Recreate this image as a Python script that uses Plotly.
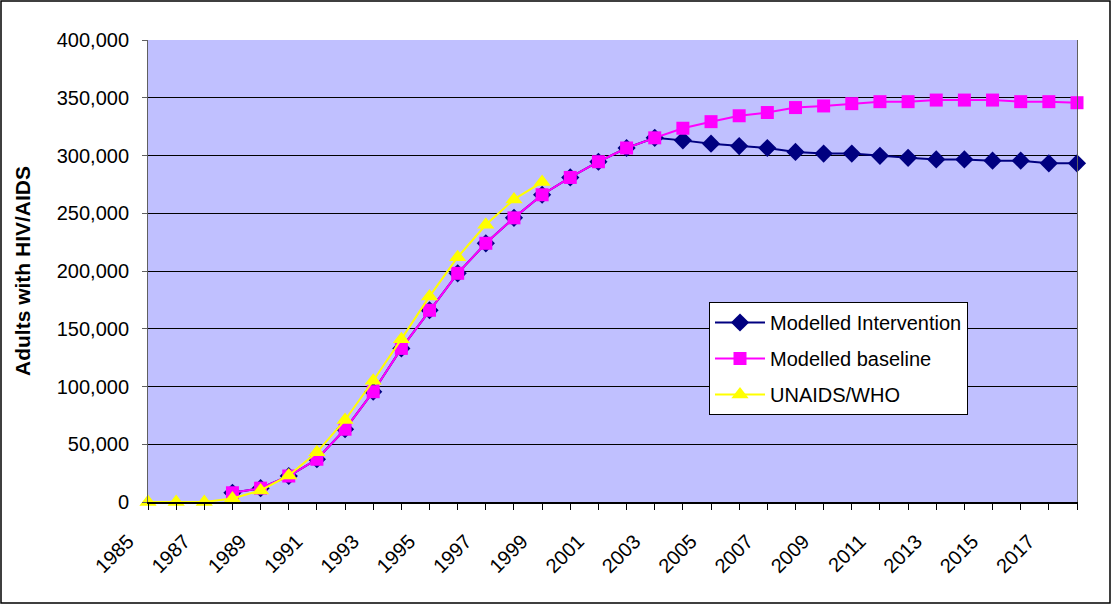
import plotly.graph_objects as go

years = list(range(1985, 2019))

baseline = [None, None, None,
            8000, 12000, 22500, 37000, 63000, 95500, 133000, 166000, 198000,
            224000, 246000, 266000, 281000, 294600, 306500, 315300,
            323600, 329300, 334400, 337200, 341500, 342900, 344900, 346600,
            346600, 348000, 348000, 348000, 346600, 346600, 345700]

intervention = [None, None, None,
                8000, 12000, 22500, 37000, 63000, 95500, 133000, 166000, 198000,
                224000, 246000, 266000, 281000, 294600, 306500, 315300,
                313100, 310200, 308200, 306500, 303100, 301700, 301700, 299700,
                298000, 296600, 296600, 295500, 295500, 293200, 293200]

unaids = [0, 0, 0, 3000, 10000, 23000, 43000, 71000, 105000, 141000, 178000,
          212000, 240000, 262000, 277000] + [None] * 19

tick_text = [str(y) if y % 2 == 1 else "" for y in years]

FONT = "Liberation Sans, Arial, sans-serif"

fig = go.Figure()
fig.add_trace(go.Scatter(x=years, y=intervention, name="Modelled Intervention",
                         mode="lines+markers", legendgroup="a",
                         line=dict(color="#000080", width=2),
                         marker=dict(symbol="diamond", size=14, color="#000080"),
                         cliponaxis=False))
fig.add_trace(go.Scatter(x=years, y=baseline, name="Modelled baseline",
                         mode="lines+markers", legendgroup="b",
                         line=dict(color="#FF00FF", width=2),
                         marker=dict(symbol="square", size=13, color="#FF00FF"),
                         cliponaxis=False))
fig.add_trace(go.Scatter(x=years, y=unaids, name="UNAIDS/WHO",
                         mode="lines+markers", legendgroup="c",
                         line=dict(color="#FFFF00", width=2),
                         marker=dict(symbol="triangle-up", size=15, color="#FFFF00"),
                         cliponaxis=False))

W, H = 1112, 605
L, R, T, B = 148, 35, 40, 103
pw, ph = W - L - R, H - T - B

fig.update_layout(
    width=W, height=H,
    margin=dict(l=L, r=R, t=T, b=B),
    paper_bgcolor="white",
    plot_bgcolor="#C0C0FF",
    font=dict(family=FONT, size=20, color="black"),
    showlegend=True,
    legend=dict(x=(709 - L) / pw, y=(H - B - 302) / ph, xanchor="left", yanchor="top",
                bgcolor="white", bordercolor="black", borderwidth=1,
                font=dict(family=FONT, size=20), tracegroupgap=7,
                itemwidth=50),
    xaxis=dict(range=[1985, 2018], tickvals=years, ticktext=tick_text,
               tickangle=-45, ticks="", 
               ticklabelstandoff=18, ticklabelshift=-20,
               minor=dict(ticks="outside", tick0=1985, dtick=1, ticklen=6,
                          tickcolor="black", tickwidth=1.2, showgrid=False),
               showgrid=False, zeroline=False, showline=True, linecolor="black",
               linewidth=1.5, tickfont=dict(family=FONT, size=20)),
    yaxis=dict(range=[0, 400000], dtick=50000, tickformat=",d",
               ticks="outside", ticklen=5, tickcolor="#606060",
               ticklabelstandoff=9,
               showgrid=True, gridcolor="black", gridwidth=1,
               zeroline=False, showline=True, linecolor="#606060", mirror=True,
               tickfont=dict(family=FONT, size=20),
               title=dict(text="<b>Adults with HIV/AIDS</b>", standoff=20,
                          font=dict(family=FONT, size=21))),
)

fig.add_shape(type="rect", xref="paper", yref="paper",
              x0=(1 - L) / pw, x1=(1110 - L) / pw,
              y0=(H - B - 603) / ph, y1=(H - B - 1) / ph,
              line=dict(color="black", width=1.5), layer="below")

fig.write_html("out.html", config={"displayModeBar": False},
               post_script="document.body.style.margin='0';document.body.style.padding='0';")
